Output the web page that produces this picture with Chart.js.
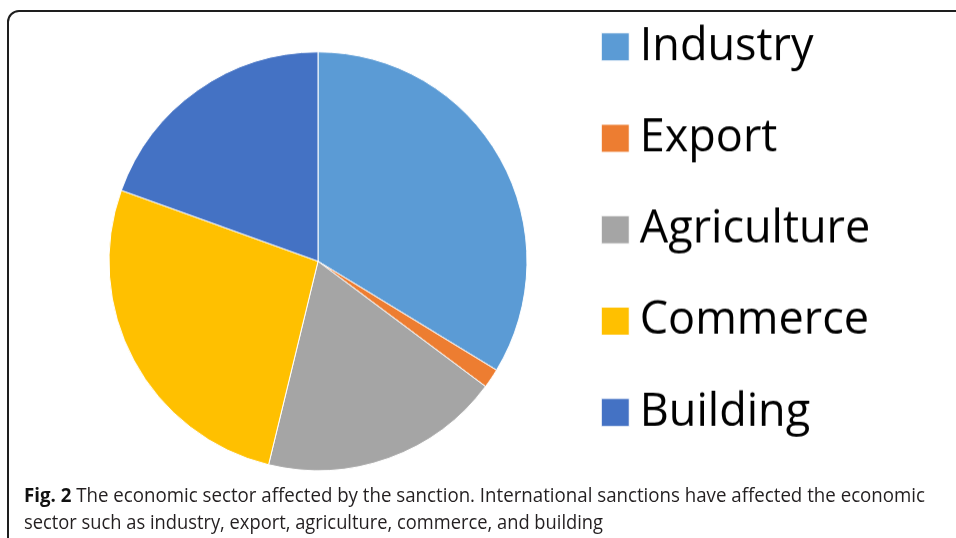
<!DOCTYPE html>
<html>
<head>
<meta charset="utf-8">
<script src="https://cdn.jsdelivr.net/npm/chart.js@4.4.1/dist/chart.umd.min.js"></script>
<style>
  html, body { margin: 0; padding: 0; background: #fff; width: 956px; height: 538px; overflow: hidden; position: relative; font-family: 'Open Sans', sans-serif; }
  #frame { position: absolute; left: 7px; top: 10px; width: 2000px; height: 2000px; border: 2px solid #1e1e1e; border-top-left-radius: 12px; }
  #wrap { position: absolute; left: 0; top: -21.75px; width: 956px; height: 565.5px; }
  .cap { position: absolute; left: 24px; font-size: 20px; line-height: 20px; color: #231f20; white-space: nowrap; transform-origin: 0 0; }
  .cap b { color: #111; }
</style>
</head>
<body>
<div id="frame"></div>
<div id="wrap"><canvas id="sector-chart"></canvas></div>
<div class="cap" id="cap1" style="top:485px"><b>Fig. 2</b> The economic sector affected by the sanction. International sanctions have affected the economic</div>
<div class="cap" id="cap2" style="top:512px">sector such as industry, export, agriculture, commerce, and building</div>
<script>
// Sectors and their share of the sanction impact
const SECTORS = ['Industry', 'Export', 'Agriculture', 'Commerce', 'Building'];
const SHARES = [33.7, 1.5, 18.6, 26.7, 19.5];
const SECTOR_COLORS = ['#5B9BD5', '#ED7D31', '#A5A5A5', '#FFC000', '#4472C4'];

const LEGEND_FONT = { family: "'Open Sans', sans-serif", size: 45, lineHeight: 1 };
const LEGEND_PAD = 46.25;
const LEGEND_BOX = 4;
const LEGEND_LEFT = 567;   // where the legend box should start (px)

// legend width depends on the longest label, so measure it first
const measureCtx = document.createElement('canvas').getContext('2d');
measureCtx.font = `${LEGEND_FONT.size}px ${LEGEND_FONT.family}`;
const maxTextW = Math.max(...SECTORS.map(s => measureCtx.measureText(s).width));
const legendW = LEGEND_PAD + LEGEND_BOX + LEGEND_FONT.size / 2 + maxTextW;

const ctx = document.getElementById('sector-chart');
const sectorChart = new Chart(ctx.getContext('2d'), {
  type: 'pie',
  data: {
    labels: SECTORS,
    datasets: [{
      data: SHARES,
      backgroundColor: SECTOR_COLORS,
      borderColor: '#ffffff',
      borderWidth: 1
    }]
  },
  options: {
    responsive: true,
    maintainAspectRatio: false,
    animation: false,
    radius: 209,
    layout: { padding: { left: 69, right: 956 - LEGEND_LEFT - legendW, top: 0, bottom: 0 } },
    plugins: {
      tooltip: { enabled: false },
      legend: {
        position: 'right',
        align: 'start',
        labels: {
          color: '#000',
          font: LEGEND_FONT,
          padding: LEGEND_PAD,
          boxWidth: LEGEND_BOX,
          boxHeight: 28,
          usePointStyle: true,
          pointStyle: 'rect'
        }
      }
    }
  }
});

// nudge the right padding so the legend lands where it should
const drift = sectorChart.legend.left - LEGEND_LEFT;
if (Math.abs(drift) > 0.5) {
  sectorChart.options.layout.padding.right += drift;
  sectorChart.update('none');
}

// squeeze caption lines to the reference widths
[['cap1', 901], ['cap2', 579]].forEach(([id, target]) => {
  const el = document.getElementById(id);
  const w = el.getBoundingClientRect().width;
  el.style.transform = `scaleX(${target / w})`;
});
</script>
</body>
</html>
